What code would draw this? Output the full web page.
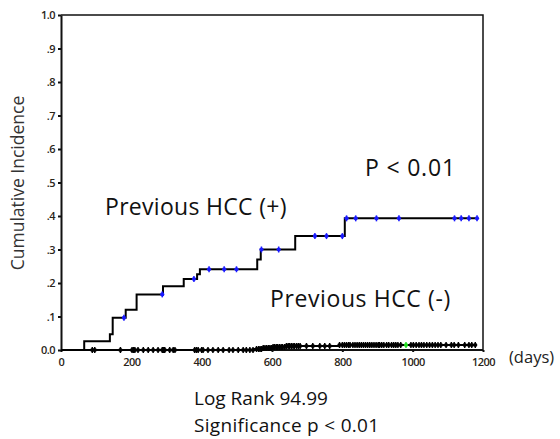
<!DOCTYPE html>
<html>
<head>
<meta charset="utf-8">
<script src="https://cdn.jsdelivr.net/npm/d3@7"></script>
<style>
  body { margin: 0; background: #fff; }
  text { font-family: 'Open Sans', 'Noto Sans', sans-serif; }
</style>
</head>
<body>
<div id="root"></div>
<script>
const width = 560;
const height = 439;
const margin = { top: 15, right: 77, bottom: 89, left: 61 };

// Previous HCC (+): step times (days) and cumulative incidence after each step
const posDays = [0, 66, 139, 147, 184, 215, 290, 349, 387, 395, 558, 568, 666, 807, 1185];
const posRisk = [0, 0.026, 0.047, 0.096, 0.12, 0.166, 0.19, 0.212, 0.226, 0.241, 0.27, 0.3, 0.34, 0.393, 0.393];
const posCensored = [179, 288, 378, 421, 464, 499, 570, 619, 722, 755, 800, 812, 838, 897, 961, 1119, 1138, 1160, 1183];

// Previous HCC (-)
const negDays = [0, 548, 575, 600, 640, 790, 1182];
const negRisk = [0, 0.003, 0.006, 0.009, 0.012, 0.015, 0.015];
const negCensored = [
  89, 96, 169, 202, 206, 210, 219, 234, 248, 262, 276, 288, 292, 295, 309, 319, 324,
  380, 385, 390, 400, 404, 418, 432, 447, 461, 478, 489, 504, 518, 527, 537, 546,
  556, 562, 566, 570, 575, 580, 585, 590, 594, 598, 603, 607, 612, 616, 621, 626,
  630, 636, 641, 646, 650, 655, 660, 664, 670, 675, 680, 698, 716, 736, 750, 764,
  792, 800, 806, 812, 818, 822, 830, 836, 842, 848, 854, 860, 866, 872, 878, 884,
  890, 896, 902, 906, 912, 918, 926, 932, 940, 946, 952, 958, 966, 995, 1002, 1010,
  1018, 1025, 1032, 1040, 1048, 1056, 1064, 1072, 1080, 1095, 1110, 1118, 1130,
  1148, 1160, 1168, 1178,
];
const negHighlight = [981];

const xTicks = [0, 200, 400, 600, 800, 1000, 1200];
const yTicks = [0, 0.1, 0.2, 0.3, 0.4, 0.5, 0.6, 0.7, 0.8, 0.9, 1.0];
const yTickLabels = ['0.0', '.1', '.2', '.3', '.4', '.5', '.6', '.7', '.8', '.9', '1.0'];

// Main canvas

const svg = d3
  .select('#root')
  .append('svg')
  .attr('width', width)
  .attr('height', height);

// Scales

const xScale = d3
  .scaleLinear()
  .domain([0, 1200])
  .range([margin.left, 483]);

const yScale = d3
  .scaleLinear()
  .domain([0, 1])
  .range([height - margin.bottom, margin.top]);

// Frame (top and right)

svg
  .append('path')
  .attr('d', `M${margin.left},${margin.top}H${width - margin.right}V${height - margin.bottom}`)
  .attr('fill', 'none')
  .attr('stroke', '#111')
  .attr('stroke-width', 1.5);

// Axes

const xAxis = d3
  .axisBottom(xScale)
  .tickValues(xTicks)
  .tickFormat(d3.format('d'))
  .tickSize(2)
  .tickSizeOuter(0);

const gx = svg
  .append('g')
  .attr('transform', `translate(0, ${height - margin.bottom})`)
  .call(xAxis);

gx.select('.domain')
  .attr('d', `M${margin.left},0H${width - margin.right}`)
  .attr('stroke', '#111')
  .attr('stroke-width', 2);

gx.selectAll('.tick line').attr('stroke', '#111').attr('stroke-width', 2);

gx.selectAll('.tick text')
  .attr('y', 8)
  .attr('fill', '#2a2418')
  .style('font-size', '11px')
  .style('font-weight', 600)
  .style('letter-spacing', '-0.5px');

const yAxis = d3
  .axisLeft(yScale)
  .tickValues(yTicks)
  .tickFormat((d, i) => yTickLabels[i])
  .tickSize(3)
  .tickSizeOuter(0);

const gy = svg
  .append('g')
  .attr('transform', `translate(${margin.left}, 0)`)
  .call(yAxis);

gy.select('.domain').attr('stroke', '#111').attr('stroke-width', 2);
gy.selectAll('.tick line').attr('stroke', '#111').attr('stroke-width', 2);

gy.selectAll('.tick text')
  .attr('x', -6)
  .attr('fill', '#2a2418')
  .style('font-size', '11px')
  .style('font-weight', 600)
  .style('letter-spacing', '-0.5px');

// Step curves

const stepLine = d3
  .line()
  .x((d) => xScale(d[0]))
  .y((d) => yScale(d[1]))
  .curve(d3.curveStepAfter);

svg
  .append('path')
  .datum(negDays.map((d, i) => [d, negRisk[i]]))
  .attr('d', stepLine)
  .attr('fill', 'none')
  .attr('stroke', '#000')
  .attr('stroke-width', 2);

svg
  .append('path')
  .datum(posDays.map((d, i) => [d, posRisk[i]]))
  .attr('d', stepLine)
  .attr('fill', 'none')
  .attr('stroke', '#000')
  .attr('stroke-width', 2);

// Censor marks

const riskAt = (days, risk, t) => {
  let r = 0;
  days.forEach((d, i) => {
    if (d <= t) r = risk[i];
  });
  return r;
};

function drawCensors(data, days, risk, color, size) {
  const g = svg.append('g');
  const mark = g
    .selectAll('g')
    .data(data)
    .enter()
    .append('g')
    .attr('transform', (d) => `translate(${xScale(d)}, ${yScale(riskAt(days, risk, d))})`);

  mark
    .append('line')
    .attr('y1', -size)
    .attr('y2', size)
    .attr('stroke', color)
    .attr('stroke-width', 1.5);

  mark
    .append('circle')
    .attr('r', size * 0.7)
    .attr('fill', color);
}

drawCensors(negCensored, negDays, negRisk, '#000', 3);
drawCensors(negHighlight, negDays, negRisk, '#22dd22', 3);
drawCensors(posCensored, posDays, posRisk, '#1a1aff', 3);

// Labels

svg
  .append('text')
  .attr('transform', 'translate(24, 183) rotate(-90)')
  .attr('text-anchor', 'middle')
  .attr('fill', '#333')
  .style('font-size', '17.5px')
  .text('Cumulative Incidence');

svg
  .append('text')
  .attr('x', 509)
  .attr('y', 363)
  .attr('fill', '#222')
  .style('font-size', '16.5px')
  .text('(days)');

const annotations = [
  { text: 'P < 0.01', x: 365, y: 176, size: 23, spacing: 0.8 },
  { text: 'Previous HCC (+)', x: 105, y: 215, size: 23, spacing: 0.3 },
  { text: 'Previous HCC (-)', x: 270, y: 307, size: 23, spacing: 0.6 },
  { text: 'Log Rank 94.99', x: 194, y: 405, size: 19, spacing: 0 },
  { text: 'Significance p < 0.01', x: 194, y: 432, size: 19, spacing: 0.3 },
];

svg
  .selectAll('.note')
  .data(annotations)
  .enter()
  .append('text')
  .attr('class', 'note')
  .attr('x', (d) => d.x)
  .attr('y', (d) => d.y)
  .attr('fill', '#111')
  .style('font-size', (d) => d.size + 'px')
  .style('letter-spacing', (d) => d.spacing + 'px')
  .text((d) => d.text);
</script>
</body>
</html>
